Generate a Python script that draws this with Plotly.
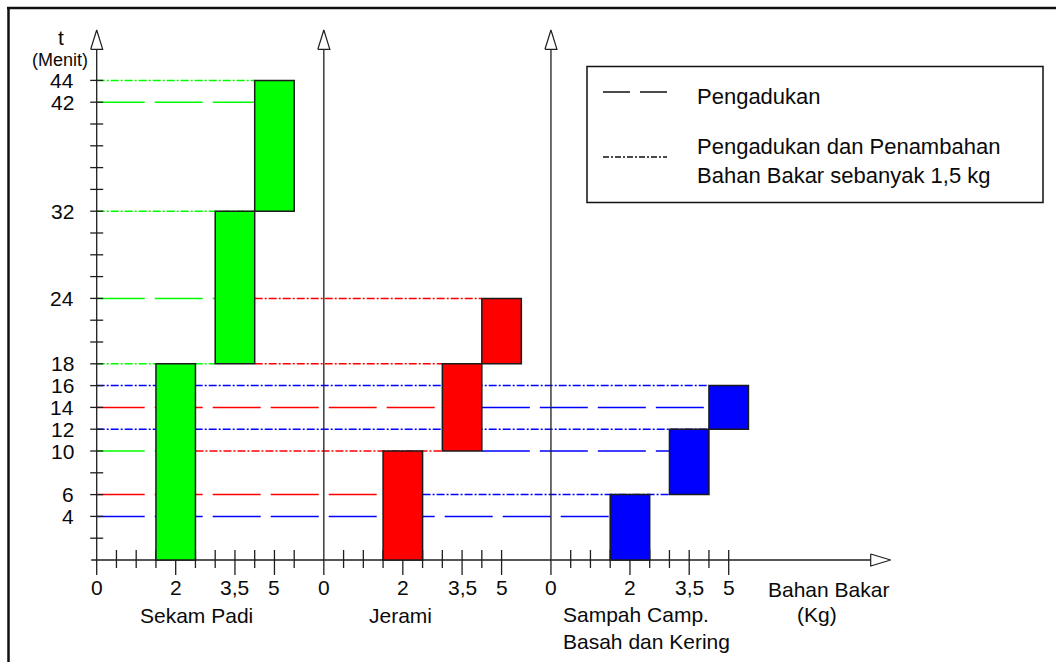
import plotly.graph_objects as go

W, H = 1056, 662

# ---------------- data ----------------
fuel_names = ["Sekam Padi", "Jerami", "Sampah Camp.<br>Basah dan Kering"]
fuel_colors = ["#00ff00", "#ff0000", "#0000ff"]

# kg tick labels on each panel and where they sit on the panel axis
kg_labels = ["0", "2", "3,5", "5"]
kg_label_pos = [0, 2, 3.5, 4.5]
# centre of the three burning stages (fuel loads 2 ; 3,5 ; 5 kg)
bar_pos = [2, 3.5, 4.5]
# unlabeled small ticks on each panel axis
kg_minor = [[0.5, 1, 1.5, 2.5, 3, 4, 5],
            [0.5, 1, 1.5, 2.5, 3, 4],
            [0.5, 1, 1.5, 2.5, 3, 4]]

# stage boundaries in minutes (start of stage 1, 2, 3 and end of stage 3)
sekam_t = [0, 18, 32, 44]
jerami_t = [0, 10, 18, 24]
sampah_t = [0, 6, 12, 16]

# Pengadukan (stirring) times
stir_sekam = [10, 24, 42]
stir_jerami = [6, 14]
stir_sampah = [4, 10, 14]
# Pengadukan dan Penambahan Bahan Bakar 1,5 kg
add_sekam = [18, 32, 44]
add_jerami = [10, 18, 24]
add_sampah = [6, 12, 16]

t_ticks = list(range(2, 46, 2))
t_labels = [4, 6, 10, 12, 14, 16, 18, 24, 32, 42, 44]

# ---------------- geometry helpers ----------------
X0PX, XS = 96.7, 39.5      # pixel of x=0, pixels per unit
Y0PX, YS = 560.0, 10.9     # pixel of t=0, pixels per minute


def xd(p):
    return (p - X0PX) / XS


def yd(p):
    return (Y0PX - p) / YS


def lx(n):   # pixel length -> x data length
    return n / XS


def ly(n):   # pixel length -> y data length
    return n / YS


def pxp(p):
    return p / W


def pyp(p):
    return 1 - p / H


offs = [0.0, 5.75, 11.5]
bounds = [sekam_t, jerami_t, sampah_t]
stirs = [stir_sekam, stir_jerami, stir_sampah]
adds = [add_sekam, add_jerami, add_sampah]

DASH = "48px,10px"
DASHDOT = "8px,2px,2px,2px"
AX = "#1e1e1e"
TXT = "#0a0a0a"
FONT = "Liberation Sans, Arial, sans-serif"


def stage(f, t):
    b = bounds[f]
    for i in range(len(b) - 1):
        if b[i] <= t < b[i + 1]:
            return i
    return len(b) - 2


fig = go.Figure()

# ---- event lines (behind everything) ----
for f in range(3):
    for times, dash in ((stirs[f], DASH), (adds[f], DASHDOT)):
        for t in times:
            x_end = offs[f] + bar_pos[stage(f, t)] - 0.5
            x_start = 0.0
            for g in range(f - 1, -1, -1):
                if t in stirs[g] or t in adds[g]:
                    x_start = offs[g] + bar_pos[stage(g, t)] + 0.5
                    break
            fig.add_trace(go.Scatter(
                x=[x_start, x_end], y=[t, t], mode="lines",
                line=dict(color=fuel_colors[f], width=1.5, dash=dash),
                hoverinfo="skip", showlegend=False, zorder=0))

# ---- axes, ticks ----
ax_x, ax_y = [], []
y_top = yd(49.3)
for o in offs:
    ax_x += [o, o, None]
    ax_y += [-ly(15), y_top, None]
x_axis_end = xd(870.7)
ax_x += [-lx(5.5), x_axis_end, None]
ax_y += [0, 0, None]
# t ticks
for t in t_ticks:
    ax_x += [-lx(6.5), lx(6.5), None]
    ax_y += [t, t, None]
# kg ticks
for pi, o in enumerate(offs):
    for k in kg_minor[pi]:
        ax_x += [o + k, o + k, None]
        ax_y += [ly(10), -ly(8), None]
    for k in kg_label_pos[1:]:
        ax_x += [o + k, o + k, None]
        ax_y += [ly(10), -ly(15), None]
fig.add_trace(go.Scatter(x=ax_x, y=ax_y, mode="lines",
                         line=dict(color=AX, width=1.3),
                         hoverinfo="skip", showlegend=False, zorder=1))

# arrow heads
arr_x, arr_y = [], []
for o in offs:
    arr_x += [o - lx(6), o, o + lx(6), o - lx(6), None]
    arr_y += [y_top, yd(30), y_top, y_top, None]
arr_x += [x_axis_end, xd(890.7), x_axis_end, x_axis_end]
arr_y += [ly(6), 0, -ly(6), ly(6)]
fig.add_trace(go.Scatter(x=arr_x, y=arr_y, mode="lines", fill="toself",
                         fillcolor="white", line=dict(color=AX, width=1.2),
                         hoverinfo="skip", showlegend=False, zorder=1))

# ---- bars ----
for f in range(3):
    b = bounds[f]
    fig.add_trace(go.Bar(
        x=[offs[f] + p for p in bar_pos],
        y=[b[i + 1] - b[i] for i in range(3)],
        base=b[:3], width=1.0,
        marker=dict(color=fuel_colors[f], line=dict(color="#1a1a1a", width=1.5)),
        hoverinfo="skip", showlegend=False, zorder=2))

ann = []
# t labels
for t in t_labels:
    ann.append(dict(x=xd(76), y=t, xref="x", yref="y", text=str(t),
                    xanchor="right", yanchor="middle", showarrow=False,
                    font=dict(size=21, color=TXT, family=FONT)))
# kg labels
for o in offs:
    for lab, k in zip(kg_labels, kg_label_pos):
        ann.append(dict(x=o + k, y=yd(587), xref="x", yref="y", text=lab,
                        xanchor="center", yanchor="middle", showarrow=False,
                        font=dict(size=21, color=TXT, family=FONT)))


def txt(x, y, s, size=21, xa="center", align="center"):
    ann.append(dict(x=pxp(x), y=pyp(y), xref="paper", yref="paper", text=s,
                    xanchor=xa, yanchor="middle", showarrow=False, align=align,
                    font=dict(size=size, color=TXT, family=FONT)))


txt(61, 37, "t", 21)
txt(60, 60, "(Menit)", 18)
txt(196, 615, fuel_names[0], 21)
txt(400, 615, fuel_names[1], 21)
txt(561, 628, fuel_names[2], 21, xa="left", align="left")
txt(828, 589, "Bahan Bakar", 21)
txt(817, 614, "(Kg)", 21)
# legend texts
txt(695, 96, "Pengadukan", 22, xa="left", align="left")
txt(695, 161, "Pengadukan dan Penambahan<br>Bahan Bakar sebanyak 1,5 kg", 22,
    xa="left", align="left")

shapes = [
    # frame
    dict(type="line", xref="paper", yref="paper", x0=pxp(8.5), x1=pxp(8.5),
         y0=pyp(7), y1=pyp(H + 5), line=dict(color="#111", width=2.5)),
    dict(type="line", xref="paper", yref="paper", x0=pxp(7), x1=pxp(W + 5),
         y0=pyp(8), y1=pyp(8), line=dict(color="#111", width=2.5)),
    # legend box
    dict(type="rect", xref="paper", yref="paper", x0=pxp(587), x1=pxp(1043),
         y0=pyp(66.5), y1=pyp(202.5), line=dict(color="#111", width=1.5)),
    dict(type="line", xref="paper", yref="paper", x0=pxp(603), x1=pxp(667),
         y0=pyp(92), y1=pyp(92), line=dict(color="#111", width=1.3, dash="27px,10px")),
    dict(type="line", xref="paper", yref="paper", x0=pxp(603), x1=pxp(667),
         y0=pyp(157), y1=pyp(157), line=dict(color="#111", width=1.3, dash="6px,2px,2px,2px")),
]

fig.update_layout(
    width=W, height=H, margin=dict(l=0, r=0, t=0, b=0),
    paper_bgcolor="white", plot_bgcolor="white",
    barmode="overlay", showlegend=False,
    xaxis=dict(visible=False, range=[xd(0), xd(W)], fixedrange=True),
    yaxis=dict(visible=False, range=[yd(H), yd(0)], fixedrange=True),
    annotations=ann, shapes=shapes,
)

fig.write_html(
    "out.html",
    config={"displayModeBar": False},
    post_script="document.body.style.margin='0';document.body.style.overflow='hidden';",
)
